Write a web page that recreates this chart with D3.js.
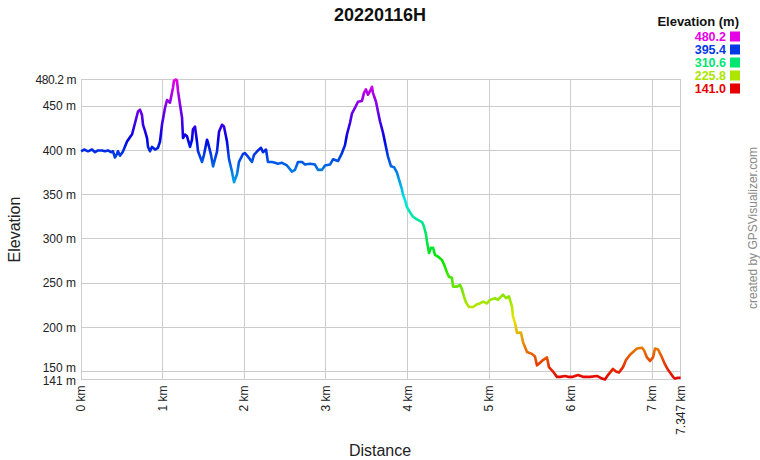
<!DOCTYPE html>
<html><head><meta charset="utf-8">
<script src="https://cdn.jsdelivr.net/npm/d3@7"></script>
<style>
html,body{margin:0;padding:0;background:#fff;}
svg{display:block;font-family:"Liberation Sans",Arial,sans-serif;}
</style></head>
<body><svg id="c" width="760" height="460"></svg>
<script>
const distanceKm = [0.000,0.036,0.085,0.134,0.170,0.207,0.256,0.293,0.330,0.366,0.391,0.415,0.440,0.452,0.477,0.501,0.514,0.563,0.599,0.624,0.661,0.697,0.722,0.746,0.759,0.783,0.808,0.820,0.844,0.869,0.906,0.942,0.967,0.991,1.028,1.053,1.089,1.126,1.138,1.163,1.175,1.188,1.212,1.237,1.249,1.273,1.298,1.335,1.359,1.371,1.396,1.420,1.433,1.482,1.506,1.543,1.555,1.592,1.617,1.666,1.690,1.727,1.751,1.788,1.813,1.849,1.874,1.911,1.935,1.984,2.008,2.045,2.094,2.119,2.168,2.205,2.229,2.266,2.290,2.339,2.376,2.413,2.462,2.523,2.584,2.621,2.658,2.707,2.744,2.805,2.866,2.903,2.952,2.989,3.050,3.087,3.148,3.197,3.234,3.258,3.295,3.320,3.356,3.393,3.442,3.467,3.491,3.516,3.540,3.565,3.577,3.614,3.638,3.663,3.700,3.736,3.761,3.798,3.835,3.871,3.896,3.932,3.945,3.969,3.994,4.031,4.067,4.116,4.178,4.202,4.227,4.239,4.264,4.288,4.313,4.337,4.374,4.423,4.448,4.484,4.509,4.545,4.558,4.607,4.643,4.668,4.692,4.717,4.754,4.803,4.852,4.888,4.925,4.974,5.011,5.072,5.109,5.170,5.207,5.244,5.281,5.293,5.318,5.342,5.391,5.416,5.465,5.526,5.562,5.587,5.624,5.660,5.709,5.734,5.783,5.832,5.869,5.930,5.967,6.028,6.089,6.150,6.236,6.323,6.384,6.420,6.457,6.518,6.555,6.592,6.641,6.678,6.727,6.764,6.813,6.874,6.899,6.935,6.972,7.009,7.033,7.070,7.119,7.156,7.193,7.254,7.278,7.315,7.347];
const elevationM = [399,401,399,401,398,400,400,399,400,398,399,392,396,399,394,397,399,410,415,418,431,444,446,440,429,422,414,404,399,404,401,403,410,429,448,457,454,471,479,480.2,479,467,452,437,414,418,416,404,412,424,427,410,399,387,395,412,409,395,382,399,421,429,427,410,390,376,364,373,387,396,397,393,387,395,400,403,398,401,387,387,386,385,386,383,376,378,387,387,384,385,384,378,378,383,384,390,388,397,406,418,431,442,448,455,456,465,469,463,467,472,465,455,444,433,420,404,393,382,381,375,367,356,350,344,336,330,325,322,319,314,305,297,284,290,290,282,280,276,271,262,257,256,246,246,248,243,235,228,223,223,226,227,229,227,231,233,231,237,233,235,223,212,205,194,194,183,172,170,167,157,160,163,166,155,150,144,144,145,144,144,146,144,144,145,142,141,146,153,150,149,155,163,169,172,176,177,174,166,162,166,176,175,166,158,152,144,142,143,143];
const yTickValues = [480.2,450,400,350,300,250,200,150,141];
const yTickLabels = ["480.2 m","450 m","400 m","350 m","300 m","250 m","200 m","150 m","141 m"];
const xTickValues = [0,1,2,3,4,5,6,7,7.347];
const xTickLabels = ["0 km","1 km","2 km","3 km","4 km","5 km","6 km","7 km","7.347 km"];
const legendValues = [480.2,395.4,310.6,225.8,141.0];
const legendLabels = ["480.2","395.4","310.6","225.8","141.0"];
const chartTitle = "20220116H";

const svg = d3.select("#c");
const L = 81.1, R = 680.6, T = 79.5, B = 379.5;
const x = d3.scaleLinear().domain([0, 7.347]).range([L, R]);
const y = d3.scaleLinear().domain([141, 480.2]).range([B, T]);
const hue = d3.scaleLinear().domain([141, 480.2]).range([0, 300]);
const colorOf = v => d3.hsl(hue(v), 1, 0.45).formatHex();

// gridlines
const grid = svg.append("g").attr("stroke", "#cccccc").attr("stroke-width", 1).attr("shape-rendering", "crispEdges");
grid.selectAll("line.h").data(yTickValues).enter().append("line")
  .attr("x1", L).attr("x2", R).attr("y1", d => y(d)).attr("y2", d => y(d));
grid.selectAll("line.v").data(xTickValues).enter().append("line")
  .attr("y1", T).attr("y2", B).attr("x1", d => x(d)).attr("x2", d => x(d));

// y tick labels
svg.append("g").selectAll("text").data(yTickValues).enter().append("text")
  .attr("x", 76).attr("y", d => y(d) + (d === 150 ? -3.5 : (d === 141 ? 1.5 : 0)))
  .attr("dy", "0.35em").attr("text-anchor", "end")
  .attr("font-size", 12).attr("fill", "#222").attr("letter-spacing", (d,i)=> i===0 ? "-0.4" : "0")
  .text((d,i) => yTickLabels[i]);

// x tick labels
svg.append("g").selectAll("text").data(xTickValues).enter().append("text")
  .attr("transform", d => `translate(${x(d)},${B + 6}) rotate(-90)`)
  .attr("dy", "0.35em").attr("text-anchor", "end")
  .attr("font-size", 12).attr("fill", "#222")
  .text((d,i) => xTickLabels[i]);

// gradient
const defs = svg.append("defs");
const grad = defs.append("linearGradient").attr("id", "eg")
  .attr("gradientUnits", "userSpaceOnUse")
  .attr("x1", 0).attr("x2", 0).attr("y1", y(141)).attr("y2", y(480.2));
d3.range(0, 1.0001, 0.05).forEach(t => {
  const v = 141 + t * (480.2 - 141);
  grad.append("stop").attr("offset", t).attr("stop-color", colorOf(v));
});

const pts = distanceKm.map((d,i) => [d, elevationM[i]]);
const line = d3.line().x(d => x(d[0])).y(d => y(d[1])).curve(d3.curveLinear);
svg.append("path").datum(pts).attr("d", line)
  .attr("fill", "none").attr("stroke", "url(#eg)").attr("stroke-width", 2.6)
  .attr("stroke-linejoin", "round");

// titles
svg.append("text").attr("x", 380).attr("y", 21).attr("text-anchor", "middle")
  .attr("font-size", 18).attr("font-weight", "bold").attr("fill", "#111").text(chartTitle);
svg.append("text").attr("x", 380).attr("y", 456).attr("text-anchor", "middle")
  .attr("font-size", 16).attr("fill", "#222").text("Distance");
svg.append("text").attr("transform", `translate(20,${(T+B)/2}) rotate(-90)`).attr("text-anchor", "middle")
  .attr("font-size", 16).attr("fill", "#222").text("Elevation");
svg.append("text").attr("transform", `translate(757,228) rotate(-90)`).attr("text-anchor", "middle")
  .attr("font-size", 12).attr("fill", "#888").text("created by GPSVisualizer.com");

// legend
svg.append("text").attr("x", 739).attr("y", 26).attr("text-anchor", "end")
  .attr("font-size", 13).attr("font-weight", "bold").attr("fill", "#111").text("Elevation (m)");
const lg = svg.append("g").selectAll("g").data(legendValues).enter().append("g")
  .attr("transform", (d,i) => `translate(0,${36.5 + i * 13})`);
lg.append("text").attr("x", 726).attr("dy", "0.35em").attr("text-anchor", "end")
  .attr("font-size", 12.5).attr("font-weight", "bold").attr("fill", d => colorOf(d))
  .text((d,i) => legendLabels[i]);
lg.append("rect").attr("x", 730).attr("y", -5).attr("width", 10).attr("height", 10)
  .attr("fill", d => colorOf(d));
</script></body></html>
